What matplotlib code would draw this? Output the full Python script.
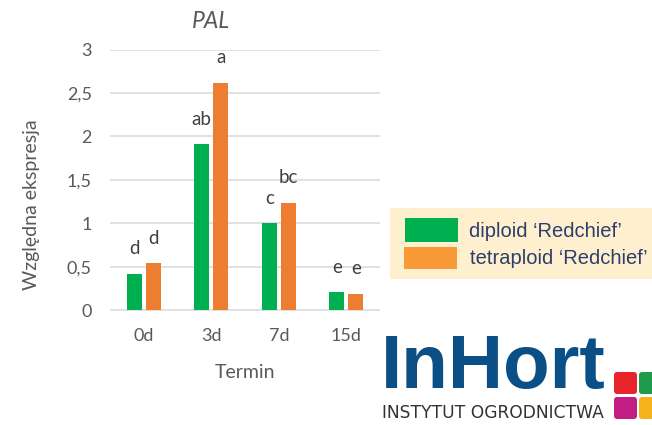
import matplotlib
matplotlib.use("Agg")
import matplotlib.pyplot as plt
from matplotlib.patches import Rectangle, FancyBboxPatch
import numpy as np

terms = ["0d", "3d", "7d", "15d"]
diploid = [0.42, 1.91, 1.0, 0.21]
tetraploid = [0.54, 2.62, 1.24, 0.19]
letters_diploid = ["d", "ab", "c", "e"]
letters_tetraploid = ["d", "a", "bc", "e"]
yticks = [0, 0.5, 1, 1.5, 2, 2.5, 3]
ytick_labels = ["0", "0,5", "1", "1,5", "2", "2,5", "3"]
series_names = ["diploid \u2018Redchief\u2019", "tetraploid \u2018Redchief\u2019"]

GREEN = "#00B050"
ORANGE = "#ED7D31"
GREY = "#595959"
W, H = 652, 425

plt.rcParams["font.family"] = ["Lato", "DejaVu Sans"]

fig = plt.figure(figsize=(W / 100, H / 100), dpi=100)
ax = fig.add_axes([110 / W, (H - 311) / H, 270 / W, 261.5 / H])

x = np.arange(len(terms))
bw = 0.222
off = 0.14
b1 = ax.bar(x - off, diploid, bw, color=GREEN, zorder=3)
b2 = ax.bar(x + off, tetraploid, bw, color=ORANGE, zorder=3)

# significance letters above bars
for bars, labs in ((b1, letters_diploid), (b2, letters_tetraploid)):
    for rect, lab in zip(bars, labs):
        ax.annotate(lab, (rect.get_x() + rect.get_width() / 2, rect.get_height()),
                    xytext=(0, 14), textcoords="offset points", ha="center",
                    va="baseline", fontsize=13.5, color="#404040")

ax.set_xlim(-0.5, 3.5)
ax.set_yticks(yticks, ytick_labels)
ax.set_xticks(x, terms)
ax.grid(axis="y", color="#D9D9D9", lw=1.1, zorder=0)
for s in ax.spines.values():
    s.set_visible(False)
ax.tick_params(length=0, labelsize=13, labelcolor=GREY)
ax.tick_params(axis="y", pad=13)
ax.tick_params(axis="x", pad=12)
ax.set_ylim(-0.008, 3)

fig.text(210.7 / W, 1 - 21 / H, "PAL", ha="center", va="center",
         fontsize=16.5, style="italic", color=GREY)
fig.text(245 / W, 1 - 372 / H, "Termin", ha="center", va="center",
         fontsize=14, color=GREY)
fig.text(32 / W, 1 - 205 / H, "Wzgl\u0119dna ekspresja", ha="center", va="center",
         rotation=90, fontsize=14, color=GREY)

# legend box (pasted-on style, runs off the right edge)
fig.add_artist(Rectangle((390 / W, 1 - 279 / H), 300 / W, 71 / H,
                         transform=fig.transFigure, facecolor="#FEF0CE",
                         edgecolor="none"))
fig.add_artist(Rectangle((405 / W, 1 - 242 / H), 53 / W, 24 / H,
                         transform=fig.transFigure, facecolor=GREEN, edgecolor="none"))
fig.add_artist(Rectangle((404 / W, 1 - 269 / H), 53 / W, 22 / H,
                         transform=fig.transFigure, facecolor="#F99A38", edgecolor="none"))
fig.text(469 / W, 1 - 231 / H, series_names[0], ha="left", va="center",
         fontsize=14.5, color="#2E3E6C", family=["Liberation Sans", "DejaVu Sans"])
fig.text(470 / W, 1 - 258 / H, series_names[1], ha="left", va="center",
         fontsize=14.5, color="#2E3E6C", family=["Liberation Sans", "DejaVu Sans"])

# logo
fig.text(381 / W, 1 - 388 / H, "InHort", ha="left", va="baseline",
         fontsize=55, fontweight="bold", color="#0B4F87",
         family=["Liberation Sans", "DejaVu Sans"])
fig.text(382 / W, 1 - 418.5 / H, "INSTYTUT OGRODNICTWA", ha="left", va="baseline",
         fontsize=12.3, color="#333333", family=["DejaVu Sans"])
sq_cols = [("#E8242B", 614, 394), ("#1E9A4A", 639, 394),
           ("#C41E85", 614, 419), ("#F6B21A", 639, 419)]
for c, px, py in sq_cols:
    fig.add_artist(FancyBboxPatch((px / 100, (H - py) / 100), 0.23, 0.22,
                                  boxstyle="round,pad=0,rounding_size=0.03",
                                  transform=fig.dpi_scale_trans,
                                  facecolor=c, edgecolor="none"))

fig.savefig("out.png", dpi=100)
